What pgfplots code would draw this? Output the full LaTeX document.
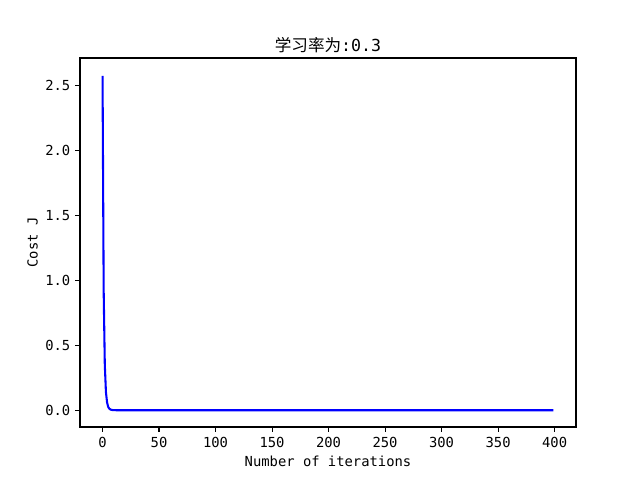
\documentclass[border=0pt]{standalone}
\usepackage{fontspec}
\setmainfont{DejaVu Sans Mono}
\newfontfamily\cjk{Noto Sans CJK SC}
\usepackage{pgfplots}
\pgfplotsset{compat=1.18}
\begin{document}
\begin{tikzpicture}
\path[use as bounding box] (0,0) rectangle (6.4in,4.8in);
\begin{axis}[
  at={(0.8in,0.53in)}, anchor=south west,
  scale only axis, width=4.96in, height=3.69in,
  xmin=-19.95, xmax=418.95, ymin=-0.129, ymax=2.714,
  xtick={0,50,...,400}, ytick={0,0.5,1,1.5,2,2.5},
  tick pos=lower, tick align=outside,
  major tick length=3.5pt,
  every tick/.style={black, line width=0.8pt},
  axis line style={line width=0.8pt},
  /pgf/number format/assume math mode=true,
  yticklabel style={/pgf/number format/fixed, /pgf/number format/precision=1, /pgf/number format/fixed zerofill},
  ticklabel style={font=\fontsize{10}{12}\selectfont},
  scaled y ticks=false,
  title={{\cjk 学习率为}:0.3},
  title style={font=\fontsize{12}{14}\selectfont, yshift=-5.5pt},
  xlabel={Number of iterations},
  ylabel={Cost J},
  label style={font=\fontsize{10}{12}\selectfont},
  xlabel style={yshift=0.5pt},
  ylabel style={yshift=-1.5pt},
]
\addplot[blue, line width=1.5pt, line join=round] coordinates {
(0,2.577) (1,0.92) (2,0.35) (3,0.14) (4,0.06) (5,0.026) (6,0.012) (7,0.006)
(8,0.003) (9,0.0015) (10,0.0008) (12,0.0003) (15,0.0001) (20,0.00003)
(50,0) (100,0) (150,0) (200,0) (250,0) (300,0) (350,0) (399,0)
};
\end{axis}
\end{tikzpicture}
\end{document}
